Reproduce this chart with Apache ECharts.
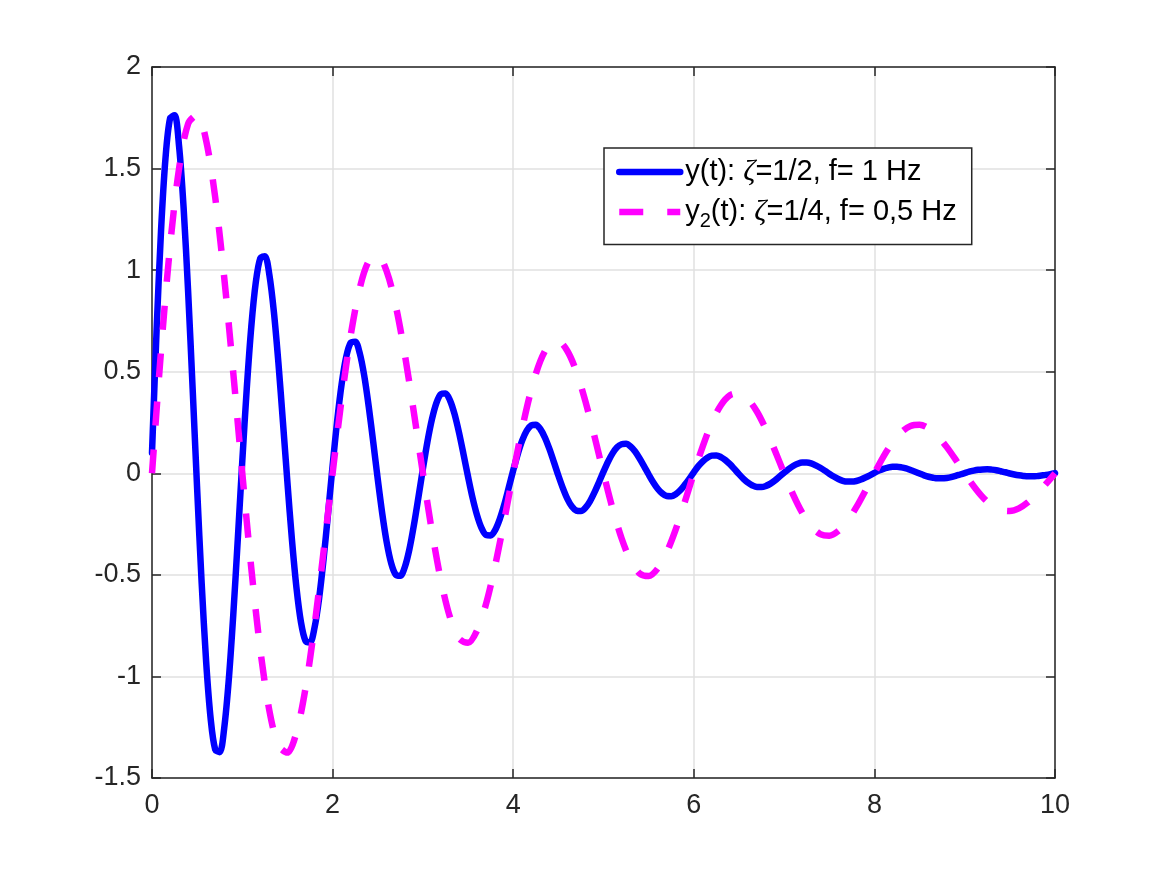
<!DOCTYPE html>
<html><head><meta charset="utf-8">
<script src="https://cdn.jsdelivr.net/npm/echarts@6/dist/echarts.min.js"></script>
<style>html,body{margin:0;padding:0;background:#fff}#c{width:1167px;height:875px}</style>
</head><body><div id="c"></div>
<script>
// ---- data ----
const seriesNames = ['y(t): ζ=1/2, f= 1 Hz', 'y2(t): ζ=1/4, f= 0,5 Hz'];
const xTickRange = [0, 10, 2];
const yTickRange = [-1.5, 2, 0.5];

// y(t): sampled every 0.05 s from t = 0 to t = 10
const blueStep = 0.05;
const yBlue = [
  0.100,0.695,1.194,1.554,1.747,1.763,1.609,1.307,0.895,0.417,
  -0.078,-0.541,-0.930,-1.210,-1.360,-1.373,-1.253,-1.018,-0.697,-0.325,
  0.061,0.421,0.724,0.942,1.060,1.069,0.976,0.793,0.543,0.253,
  -0.047,-0.328,-0.564,-0.734,-0.825,-0.833,-0.760,-0.618,-0.423,-0.197,
  0.037,0.256,0.439,0.572,0.643,0.648,0.592,0.481,0.329,0.153,
  -0.029,-0.199,-0.342,-0.445,-0.500,-0.505,-0.461,-0.375,-0.256,-0.119,
  0.022,0.155,0.266,0.347,0.390,0.393,0.359,0.292,0.200,0.093,
  -0.017,-0.121,-0.207,-0.270,-0.304,-0.306,-0.280,-0.227,-0.156,-0.072,
  0.014,0.094,0.162,0.210,0.236,0.239,0.218,0.177,0.121,0.056,
  -0.011,-0.073,-0.126,-0.164,-0.184,-0.186,-0.170,-0.138,-0.094,-0.044,
  0.008,0.057,0.098,0.128,0.143,0.145,0.132,0.107,0.073,0.034,
  -0.006,-0.044,-0.076,-0.099,-0.112,-0.113,-0.103,-0.084,-0.057,-0.027,
  0.005,0.035,0.059,0.077,0.087,0.088,0.080,0.065,0.045,0.021,
  -0.004,-0.027,-0.046,-0.060,-0.068,-0.068,-0.062,-0.051,-0.035,-0.016,
  0.003,0.021,0.036,0.047,0.053,0.053,0.049,0.039,0.027,0.013,
  -0.002,-0.016,-0.028,-0.037,-0.041,-0.041,-0.038,-0.031,-0.021,-0.010,
  0.002,0.013,0.022,0.028,0.032,0.032,0.029,0.024,0.016,0.008,
  -0.001,-0.010,-0.017,-0.022,-0.025,-0.025,-0.023,-0.019,-0.013,-0.006,
  0.001,0.008,0.013,0.017,0.019,0.020,0.018,0.015,0.010,0.005,
  -0.001,-0.006,-0.010,-0.013,-0.015,-0.015,-0.014,-0.011,-0.008,-0.004,
  0.001];

// y2(t): sampled every 0.1 s from t = 0 to t = 10
const magStep = 0.1;
const yMag = [
  0,0.603,1.118,1.501,1.721,1.765,1.637,1.358,0.962,0.494,
  0,-0.469,-0.871,-1.169,-1.340,-1.375,-1.275,-1.058,-0.750,-0.384,
  0,0.366,0.678,0.910,1.044,1.071,0.993,0.824,0.584,0.299,
  0,-0.285,-0.528,-0.709,-0.813,-0.834,-0.773,-0.642,-0.455,-0.233,
  0,0.222,0.411,0.552,0.633,0.649,0.602,0.500,0.354,0.182,
  0,-0.173,-0.320,-0.430,-0.493,-0.506,-0.469,-0.389,-0.276,-0.141,
  0,0.134,0.250,0.335,0.384,0.394,0.365,0.303,0.215,0.110,
  0,-0.105,-0.194,-0.261,-0.299,-0.307,-0.284,-0.236,-0.167,-0.086,
  0,0.082,0.151,0.203,0.233,0.239,0.222,0.184,0.130,0.067,
  0,-0.064,-0.118,-0.158,-0.181,-0.186,-0.173,-0.143,-0.101,-0.052,
  0];

// ---- styling ----
const AX = '#262626';
const FONT = '"Liberation Sans", Arial, Helvetica, sans-serif';
const SERIF = '"Liberation Serif", "DejaVu Serif", serif';
const TICK_FS = 27;
const LEG_FS = 29;
const richNames = {};
richNames[seriesNames[0]] = 'y(t): {z|ζ}=1/2, f= 1 Hz';
richNames[seriesNames[1]] = 'y{s|2}(t): {z|ζ}=1/4, f= 0,5 Hz';

function toPairs(vals, step) {
  return vals.map((v, i) => [+(i * step).toFixed(4), v]);
}

function mkX(pos, main) {
  return {
    type: 'value', position: pos, min: xTickRange[0], max: xTickRange[1], interval: xTickRange[2],
    axisLine: {show: true, onZero: false, lineStyle: {color: AX, width: 1.5}},
    axisTick: {show: true, inside: true, length: 9, lineStyle: {color: AX, width: 1.5}},
    axisLabel: {show: main, color: AX, fontSize: TICK_FS, fontFamily: FONT, margin: 14},
    splitLine: {show: main, lineStyle: {color: '#e0e0e0', width: 1.5}}
  };
}
function mkY(pos, main) {
  return {
    type: 'value', position: pos, min: yTickRange[0], max: yTickRange[1], interval: yTickRange[2],
    axisLine: {show: true, onZero: false, lineStyle: {color: AX, width: 1.5}},
    axisTick: {show: true, inside: true, length: 9, lineStyle: {color: AX, width: 1.5}},
    axisLabel: {show: main, color: AX, fontSize: TICK_FS, fontFamily: FONT, margin: 11},
    splitLine: {show: main, lineStyle: {color: '#e0e0e0', width: 1.5}}
  };
}

const chart = echarts.init(document.getElementById('c'), null, {renderer: 'canvas'});
chart.setOption({
  animation: false,
  backgroundColor: '#fff',
  grid: {left: 152, right: 112, top: 67, bottom: 97, containLabel: false},
  xAxis: [mkX('bottom', true), mkX('top', false)],
  yAxis: [mkY('left', true), mkY('right', false)],
  legend: {
    orient: 'vertical', left: 604, top: 148,
    data: seriesNames,
    backgroundColor: '#fff', borderColor: AX, borderWidth: 1.5, borderRadius: 0,
    padding: [9, 15, 13, 12], itemGap: 10, itemWidth: 61, itemHeight: 14,
    lineStyle: {width: 6.5},
    itemStyle: {color: 'rgba(0,0,0,0)', borderWidth: 0, opacity: 0},
    formatter: n => richNames[n],
    textStyle: {
      fontSize: LEG_FS, fontFamily: FONT, color: '#000', lineHeight: 30,
      rich: {
        z: {fontSize: LEG_FS + 1, fontFamily: SERIF, fontStyle: 'italic', color: '#000'},
        s: {fontSize: 20, fontFamily: FONT, color: '#000', padding: [19, 0, 0, 0]}
      }
    }
  },
  series: [
    {
      name: seriesNames[0], type: 'line', xAxisIndex: 0, yAxisIndex: 0,
      data: toPairs(yBlue, blueStep),
      symbol: 'none', showSymbol: false, smooth: 0.3,
      lineStyle: {color: '#0000ff', width: 6.5, join: 'round', cap: 'round'},
      itemStyle: {color: '#0000ff'}
    },
    {
      name: seriesNames[1], type: 'line', xAxisIndex: 0, yAxisIndex: 0,
      data: toPairs(yMag, magStep),
      symbol: 'none', showSymbol: false, smooth: 0.3,
      lineStyle: {color: '#ff00ff', width: 6.5, type: [24, 24], cap: 'butt', join: 'round'},
      itemStyle: {color: '#ff00ff'}
    }
  ]
});
</script></body></html>
